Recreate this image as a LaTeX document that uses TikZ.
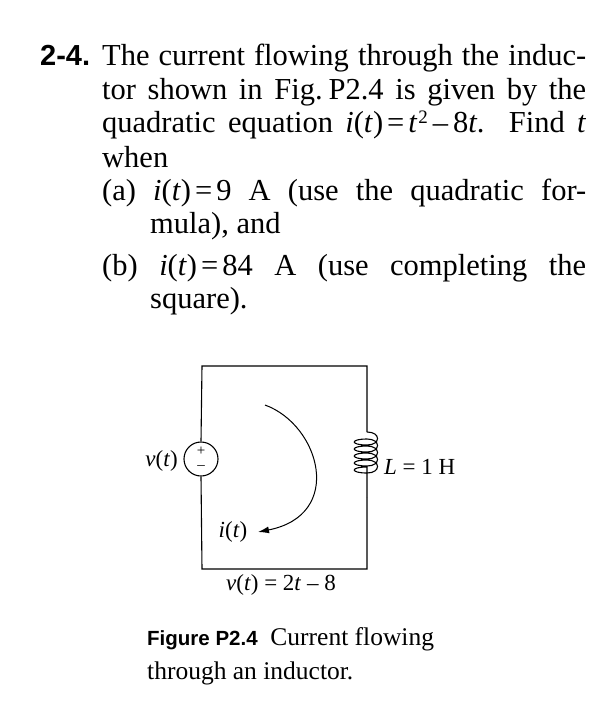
\documentclass[tikz,border=0pt]{standalone}
\usepackage{fontspec}
\setmainfont{Liberation Serif}
\newfontfamily\hsans{Liberation Sans}
\usetikzlibrary{arrows.meta}
\begin{document}
\begin{tikzpicture}[x=1pt,y=-1pt,
  ln/.style={anchor=base west,inner sep=0pt,font=\fontsize{30.5}{30}\selectfont},
  sm/.style={inner sep=0pt,font=\fontsize{23}{24}\selectfont},
  wire/.style={line width=1.1pt}]
\useasboundingbox (0,0) rectangle (606,705);
\def\J#1{\makebox[484pt][s]{#1}}
\def\eq{\kern4pt=\kern4pt}
\def\mn{\kern5pt\textendash\kern5pt}
\node[ln] (n0) at (40,65) {\hsans\bfseries\fontsize{29}{30}\selectfont 2-4.};
\node[ln] (l1) at (102,65) {\J{The current flowing through the induc-}};
\node[ln] (l2) at (102,99) {\J{tor shown in Fig.\kern6pt P2.4 is given by the}};
\node[ln] (l3) at (102,132) {\J{quadratic equation \textit{i}(\textit{t})\eq\textit{t}\kern1pt\raisebox{9pt}{\fontsize{19}{19}\selectfont 2}\mn8\textit{t}. Find \textit{t}}};
\node[ln] (l4) at (102,167) {when};
\node[ln] (l5) at (102,200) {\J{(a) \textit{i}(\textit{t})\eq9 A (use the quadratic for-}};
\node[ln] (l6) at (150,233) {mula), and};
\node[ln] (l7) at (102,275) {\J{(b) \textit{i}(\textit{t})\eq84 A (use completing the}};
\node[ln] (l8) at (150,308) {square).};
% circuit
\coordinate (tl) at (202,366);
\coordinate (tr) at (367,366);
\coordinate (bl) at (202,569);
\coordinate (br) at (367,569);
\node[draw,circle,wire,minimum size=34pt,inner sep=0pt] (src) at (201,459) {};
\node[inner sep=0pt,font=\fontsize{15}{15}\selectfont] (pl) at (201,451) {+};
\node[inner sep=0pt,font=\fontsize{15}{15}\selectfont] (mi) at (201,468) {\textendash};
\coordinate (ltop) at (367,432);
\coordinate (lbot) at (367,497);
\draw[wire] (src.north) -- (tl) -- (tr) -- (ltop);
\draw[wire] (src.south) -- (bl) -- (br) -- (lbot);
\draw[wire] (ltop) \foreach \k in {0,...,4} { .. controls +(14,0) and +(14,0) .. ++(0,13) .. controls +(-17,0) and +(-17,0) .. ++(0,-6) } -- (lbot);
\coordinate (as) at (265,405);
\coordinate (ae) at (258,532);
\draw[line width=1pt,-{Latex[length=11pt,width=7pt]}] (as) .. controls (320,425) and (345,515) .. (ae);
\node[sm,anchor=east] (vt) at (178,461) {\textit{v}(\textit{t})};
\node[sm] (it) at (233,532) {\textit{i}(\textit{t})};
\node[sm,anchor=west] (L) at (384,467) {\textit{L} = 1 H};
\node[sm] (vv) at (281,585) {\textit{v}(\textit{t}) = 2\textit{t} \textendash\ 8};
\node[ln,anchor=base west,font=\fontsize{25.5}{24}\selectfont] (cap1) at (147,645) {{\hsans\bfseries\fontsize{20.5}{24}\selectfont Figure P2.4}\ \ Current flowing};
\node[ln,anchor=base west,font=\fontsize{25.5}{24}\selectfont] (cap2) at (147,679) {through an inductor.};
\end{tikzpicture}
\end{document}
